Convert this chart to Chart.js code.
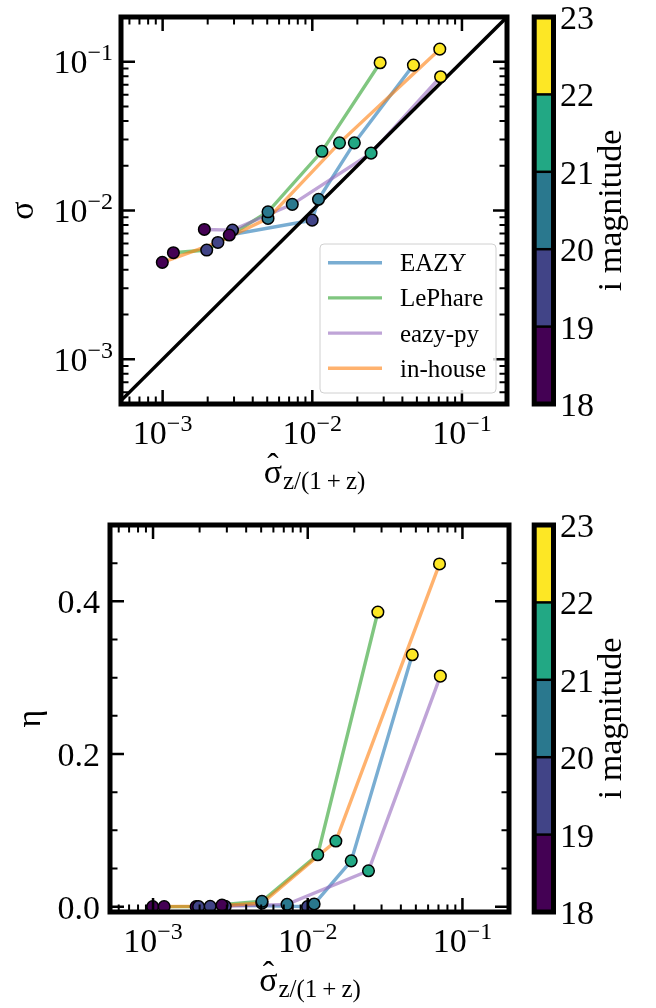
<!DOCTYPE html>
<html>
<head>
<meta charset="utf-8">
<script src="https://cdn.jsdelivr.net/npm/chart.js@4.4.0/dist/chart.umd.min.js"></script>
<style>
html, body { margin: 0; padding: 0; background: #fff; }
#wrap { position: relative; width: 656px; height: 1008px; }
canvas { position: absolute; left: 0; }
</style>
</head>
<body>
<div id="wrap">
  <canvas id="top" width="656" height="504" style="top:0"></canvas>
  <canvas id="bot" width="656" height="504" style="top:504px"></canvas>
</div>
<script>
// codes and colours
const codes = ['EAZY', 'LePhare', 'eazy-py', 'in-house'];
const lineColors = ['rgba(31,119,180,0.6)', 'rgba(44,160,44,0.6)', 'rgba(148,103,189,0.6)', 'rgba(255,127,14,0.6)'];

// i magnitude bins (18-19 ... 22-23), one point per bin in every series
const magBins = [18, 19, 20, 21, 22, 23];
const magColors = ['#440154', '#414487', '#2a788e', '#22a884', '#fde725'];

// sigma_hat z/(1+z), per code
const sigHatEazy    = [2.79e-3, 9.98e-3, 1.10e-2, 1.91e-2, 4.74e-2];
const sigHatLePhare = [1.18e-3, 1.97e-3, 5.06e-3, 1.16e-2, 2.84e-2];
const sigHatEazyPy  = [1.90e-3, 2.93e-3, 7.35e-3, 2.47e-2, 7.20e-2];
const sigHatInHouse = [9.95e-4, 2.34e-3, 5.06e-3, 1.52e-2, 7.11e-2];

// sigma (top panel)
const sigmaEazy    = [6.84e-3, 8.61e-3, 1.19e-2, 2.85e-2, 9.50e-2];
const sigmaLePhare = [5.20e-3, 5.42e-3, 9.80e-3, 2.50e-2, 9.85e-2];
const sigmaEazyPy  = [7.46e-3, 7.38e-3, 1.10e-2, 2.43e-2, 7.93e-2];
const sigmaInHouse = [4.48e-3, 6.10e-3, 8.85e-3, 2.85e-2, 0.1216];

// eta, outlier fraction (bottom panel)
const etaEazy    = [0.002, 0.000, 0.0035, 0.060, 0.330];
const etaLePhare = [0.000, 0.000, 0.0070, 0.068, 0.386];
const etaEazyPy  = [0.000, 0.0005, 0.0030, 0.047, 0.302];
const etaInHouse = [0.000, 0.0005, 0.0045, 0.086, 0.449];

// ticks
const logMajor = [1e-3, 1e-2, 1e-1];
const logLabels = [['10', '\u22123'], ['10', '\u22122'], ['10', '\u22121']];
const etaMajor = [0, 0.2, 0.4];
const etaLabels = ['0.0', '0.2', '0.4'];
const etaMinor = [0.05, 0.1, 0.15, 0.25, 0.3, 0.35, 0.45];
const cbLabels = ['18', '19', '20', '21', '22', '23'];

const X_MIN = 5.27e-4, X_MAX = 0.2;

const sigHat = [sigHatEazy, sigHatLePhare, sigHatEazyPy, sigHatInHouse];
const sigmas = [sigmaEazy, sigmaLePhare, sigmaEazyPy, sigmaInHouse];
const etas = [etaEazy, etaLePhare, etaEazyPy, etaInHouse];

const SERIF = '"Liberation Serif", "DejaVu Serif", serif';
const tickFont = '34px ' + SERIF;
const supFont = '24px ' + SERIF;

function logMinors(min, max) {
  const out = [];
  for (let e = -5; e <= 1; e++) {
    for (let k = 2; k <= 9; k++) {
      const v = k * Math.pow(10, e);
      if (v > min && v < max * 0.999) out.push(v);
    }
  }
  return out;
}

function buildDatasets(yArrays, diagonal) {
  const ds = [];
  codes.forEach((c, i) => {
    const pts = sigHat[i].map((x, k) => ({ x: x, y: yArrays[i][k] }));
    ds.push({ label: c + ' pts', data: pts, showLine: false, pointRadius: 5.8, pointBorderWidth: 1.5,
      pointBackgroundColor: magColors, pointBorderColor: '#000', order: 0, clip: false });
    ds.push({ label: c, data: pts, showLine: true, borderColor: lineColors[i], borderWidth: 3.4,
      pointRadius: 0, order: 5 - i });
  });
  if (diagonal) {
    ds.push({ label: '1:1', data: [{ x: 1e-4, y: 1e-4 }, { x: 1, y: 1 }], showLine: true,
      borderColor: '#000', borderWidth: 3.5, pointRadius: 0, order: 0.5 });
  }
  return ds;
}

function powerLabel(ctx, lab, x, base, align) {
  ctx.font = tickFont;
  const wb = ctx.measureText(lab[0]).width;
  ctx.font = supFont;
  const we = ctx.measureText(lab[1]).width;
  const w = wb + we;
  const x0 = align === 'center' ? x - w / 2 : (align === 'right' ? x - w : x);
  ctx.textAlign = 'left';
  ctx.font = tickFont;
  ctx.fillText(lab[0], x0, base);
  ctx.font = supFont;
  ctx.fillText(lab[1], x0 + wb, base - 13);
}

function drawAxes(chart, spec) {
  const ctx = chart.ctx, a = chart.chartArea;
  const xs = chart.scales.x, ys = chart.scales.y;
  ctx.save();
  ctx.strokeStyle = '#000';
  ctx.fillStyle = '#000';
  ctx.textBaseline = 'alphabetic';

  const vtick = (v, len, w) => {
    const px = xs.getPixelForValue(v);
    ctx.lineWidth = w;
    ctx.beginPath();
    ctx.moveTo(px, a.bottom); ctx.lineTo(px, a.bottom - len);
    ctx.moveTo(px, a.top); ctx.lineTo(px, a.top + len);
    ctx.stroke();
  };
  const htick = (v, len, w) => {
    const py = ys.getPixelForValue(v);
    ctx.lineWidth = w;
    ctx.beginPath();
    ctx.moveTo(a.left, py); ctx.lineTo(a.left + len, py);
    ctx.moveTo(a.right, py); ctx.lineTo(a.right - len, py);
    ctx.stroke();
  };
  logMinors(xs.min, xs.max).forEach(v => vtick(v, 7.5, 2));
  logMajor.forEach(v => vtick(v, 14, 2.5));
  spec.yMinor.forEach(v => htick(v, 7.5, 2));
  spec.yMajor.forEach(v => htick(v, 14, 2.5));

  ctx.lineWidth = 5;
  ctx.strokeRect(a.left, a.top, a.right - a.left, a.bottom - a.top);

  // tick labels
  logLabels.forEach((lab, i) => powerLabel(ctx, lab, xs.getPixelForValue(logMajor[i]), a.bottom + 40, 'center'));
  spec.yLabels.forEach((lab, i) => {
    const py = ys.getPixelForValue(spec.yMajor[i]);
    if (Array.isArray(lab)) {
      powerLabel(ctx, lab, a.left - spec.yPad, py + 11.5, 'right');
    } else {
      ctx.font = tickFont;
      ctx.textAlign = 'right';
      ctx.fillText(lab, a.left - spec.yPad, py + 12);
    }
  });

  // x axis title: sigma hat with subscript
  const cx = (a.left + a.right) / 2;
  const bl = a.bottom + 79;
  const sub = 'z/(1\u2009+\u2009z)';
  ctx.font = tickFont;
  const ws = ctx.measureText('\u03c3').width;
  ctx.font = '25px ' + SERIF;
  const wsub = ctx.measureText(sub).width;
  const x0 = cx - (ws + wsub) / 2;
  ctx.textAlign = 'left';
  ctx.font = tickFont;
  ctx.fillText('\u03c3', x0, bl);
  ctx.textAlign = 'center';
  ctx.fillText('\u02c6', x0 + ws / 2, bl - 6);
  ctx.textAlign = 'left';
  ctx.font = '25px ' + SERIF;
  ctx.fillText(sub, x0 + ws + 1, bl + 6);

  // y axis title
  ctx.save();
  ctx.translate(spec.yTitleX, (a.top + a.bottom) / 2);
  ctx.rotate(-Math.PI / 2);
  ctx.font = tickFont;
  ctx.textAlign = 'center';
  ctx.fillText(spec.yTitle, 0, 0);
  ctx.restore();

  ctx.restore();
}

function drawColorbar(chart) {
  const ctx = chart.ctx, a = chart.chartArea;
  const left = 534.2, w = 19.3;
  const yOf = v => a.bottom - (v - magBins[0]) / (magBins[magBins.length - 1] - magBins[0]) * (a.bottom - a.top);
  ctx.save();
  magColors.forEach((c, i) => {
    const y1 = yOf(magBins[i]), y2 = yOf(magBins[i + 1]);
    ctx.fillStyle = c;
    ctx.fillRect(left, y2, w, y1 - y2);
  });
  ctx.strokeStyle = '#000';
  ctx.lineWidth = 2.5;
  for (let i = 1; i < magBins.length - 1; i++) {
    const y = yOf(magBins[i]);
    ctx.beginPath(); ctx.moveTo(left, y); ctx.lineTo(left + w, y); ctx.stroke();
  }
  ctx.lineWidth = 5;
  ctx.strokeRect(left, a.top, w, a.bottom - a.top);

  ctx.fillStyle = '#000';
  ctx.font = tickFont;
  ctx.textAlign = 'left';
  cbLabels.forEach((lab, i) => ctx.fillText(lab, 560, yOf(magBins[i]) + 12));

  ctx.save();
  ctx.translate(621, (a.top + a.bottom) / 2);
  ctx.rotate(-Math.PI / 2);
  ctx.textAlign = 'center';
  ctx.fillText('i magnitude', 0, 0);
  ctx.restore();
  ctx.restore();
}

function drawLegend(chart) {
  const ctx = chart.ctx, a = chart.chartArea;
  const bx = a.right - 187, by = a.bottom - 160, bw = 176, bh = 149;
  ctx.save();
  ctx.beginPath();
  ctx.roundRect(bx, by, bw, bh, 4);
  ctx.fillStyle = 'rgba(255,255,255,0.8)';
  ctx.fill();
  ctx.strokeStyle = '#d0d0d0';
  ctx.lineWidth = 1;
  ctx.stroke();
  ctx.font = '25px ' + SERIF;
  ctx.textAlign = 'left';
  codes.forEach((c, i) => {
    const y = by + 18.7 + i * 35.2;
    ctx.strokeStyle = lineColors[i];
    ctx.lineWidth = 3.4;
    ctx.beginPath(); ctx.moveTo(bx + 8, y); ctx.lineTo(bx + 62, y); ctx.stroke();
    ctx.fillStyle = '#000';
    ctx.fillText(c, bx + 80, y + 8.5);
  });
  ctx.restore();
}

function makeDecor(spec) {
  return {
    id: 'decor_' + spec.name,
    afterDatasetsDraw(chart) {
      drawAxes(chart, spec);
      drawColorbar(chart);
      if (spec.legend) drawLegend(chart);
    }
  };
}

const baseOptions = (pad, yScale) => ({
  responsive: false,
  animation: false,
  devicePixelRatio: 1,
  events: [],
  layout: { padding: pad },
  scales: {
    x: { type: 'logarithmic', display: false, min: X_MIN, max: X_MAX, bounds: 'data' },
    y: yScale
  },
  plugins: { legend: { display: false }, tooltip: { enabled: false } }
});

new Chart(document.getElementById('top'), {
  type: 'scatter',
  data: { datasets: buildDatasets(sigmas, true) },
  options: baseOptions({ left: 121, right: 149, top: 17, bottom: 100 },
    { type: 'logarithmic', display: false, min: 5e-4, max: 0.2, bounds: 'data' }),
  plugins: [makeDecor({ name: 'top', yMajor: logMajor, yLabels: logLabels, yMinor: logMinors(5e-4, 0.2),
    yPad: 8, yTitle: '\u03c3', yTitleX: 33, legend: true })]
});

new Chart(document.getElementById('bot'), {
  type: 'scatter',
  data: { datasets: buildDatasets(etas, false) },
  options: baseOptions({ left: 110, right: 147, top: 21, bottom: 96 },
    { type: 'linear', display: false, min: -0.007, max: 0.5, bounds: 'data' }),
  plugins: [makeDecor({ name: 'bot', yMajor: etaMajor, yLabels: etaLabels, yMinor: etaMinor,
    yPad: 10, yTitle: '\u03b7', yTitleX: 40, legend: false })]
});
</script>
</body>
</html>
